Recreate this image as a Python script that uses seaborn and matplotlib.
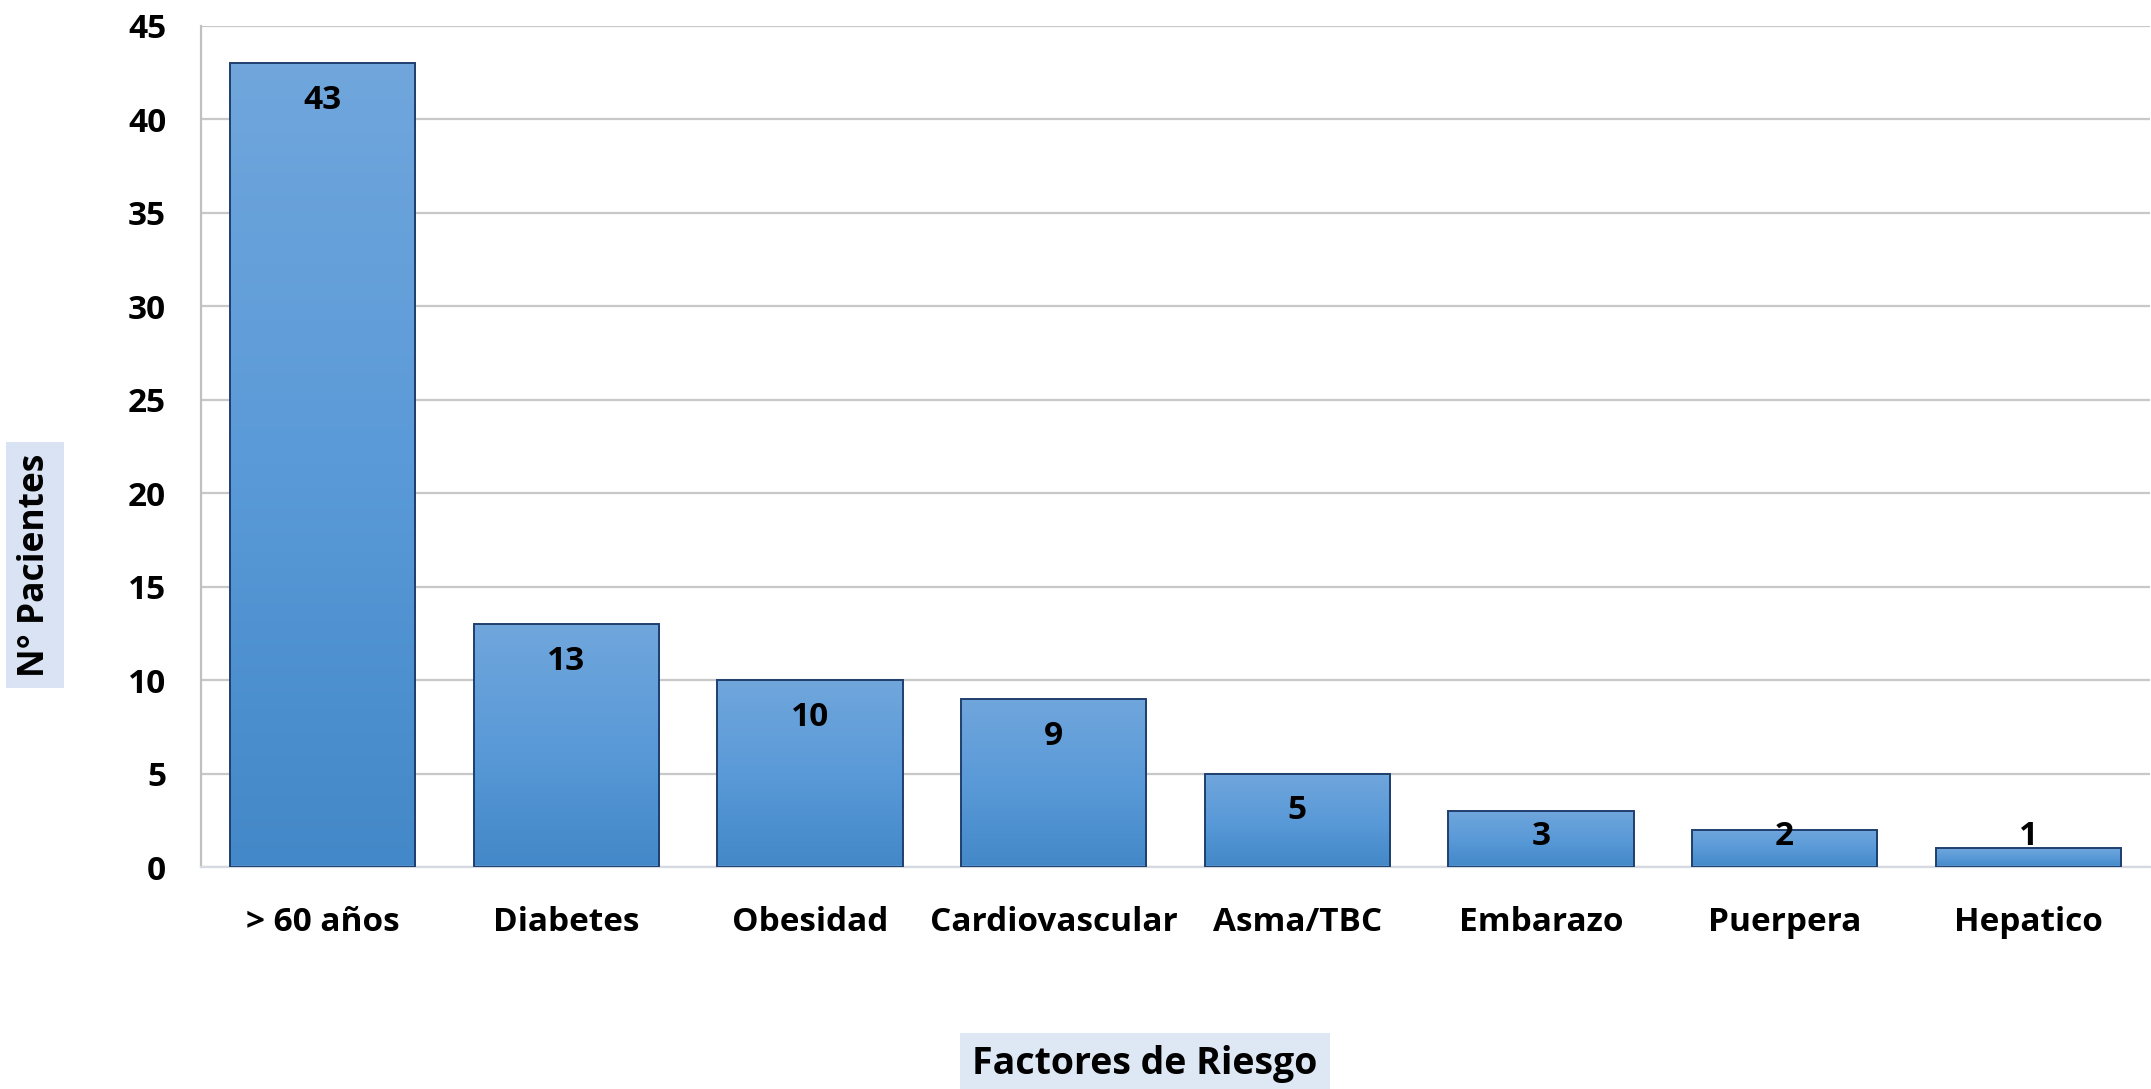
import numpy as np
import pandas as pd
import matplotlib
matplotlib.use('Agg')
import matplotlib.pyplot as plt
import seaborn as sns
from matplotlib.colors import LinearSegmentedColormap

# data
factores = ['> 60 años', 'Diabetes', 'Obesidad', 'Cardiovascular', 'Asma/TBC',
            'Embarazo', 'Puerpera', 'Hepatico']
pacientes = [43, 13, 10, 9, 5, 3, 2, 1]

df = pd.DataFrame({'factor': factores, 'n': pacientes})

sns.set_style('white')
plt.rcParams['font.family'] = ['Open Sans', 'DejaVu Sans']
plt.rcParams['font.weight'] = 'bold'
plt.rcParams['text.color'] = 'black'
plt.rcParams['xtick.color'] = 'black'
plt.rcParams['ytick.color'] = 'black'

fs = 24

fig = plt.figure(figsize=(21.51, 10.89), dpi=100)
ax = fig.add_axes([201 / 2151, 1 - 867 / 1089, 1949 / 2151, 841 / 1089])

sns.barplot(data=df, x='factor', y='n', ax=ax, width=0.76, color='#5b9bd5',
            edgecolor='#1f3f6e', linewidth=1.4, zorder=3)

# gradient fill for each bar (lighter on top, darker at bottom)
cmap = LinearSegmentedColormap.from_list('bar', ['#4388c8', '#5a9ad8', '#70a6dc'])
grad = np.linspace(0, 1, 256).reshape(-1, 1)
for p in ax.patches:
    x0, y0 = p.get_x(), p.get_y()
    w, h = p.get_width(), p.get_height()
    im = ax.imshow(grad, cmap=cmap, origin='lower', aspect='auto',
                   extent=[x0, x0 + w, y0, y0 + h], zorder=2.5)
    im.set_clip_path(p)
    p.set_facecolor('none')

ax.set_xlim(-0.5, len(factores) - 0.5)
ax.set_ylim(0, 45)
ax.set_yticks(range(0, 46, 5))
ax.yaxis.grid(True, color='#c8c8c8', linewidth=1.6, zorder=0)
ax.set_axisbelow(True)

for s in ['top', 'right']:
    ax.spines[s].set_visible(False)
ax.spines['left'].set_color('#c0c0c0')
ax.spines['left'].set_linewidth(1.6)
ax.spines['bottom'].set_color('#d5dae2')
ax.spines['bottom'].set_linewidth(1.6)

ax.tick_params(axis='both', length=0, labelsize=fs, labelcolor='black')
ax.tick_params(axis='y', pad=25)
ax.tick_params(axis='x', pad=28)
for lab in ax.get_xticklabels() + ax.get_yticklabels():
    lab.set_fontweight('bold')

# value labels near the top of each bar
for i, v in enumerate(pacientes):
    ax.text(i, max(v - 2, 1.62), str(v), ha='center', va='center',
            fontsize=fs, fontweight='bold', color='black', zorder=5)

ax.set_xlabel('')
ax.set_ylabel('')

fig.text(35 / 2151, 1 - 565 / 1089, 'N° Pacientes', rotation=90, ha='center', va='center',
         fontsize=25.5, fontweight='bold', color='black',
         bbox=dict(facecolor='#dae3f3', edgecolor='none', pad=8))
fig.text(1145 / 2151, 1 - 1064 / 1089, 'Factores de Riesgo', ha='center', va='center',
         fontsize=27, fontweight='bold', color='black',
         bbox=dict(facecolor='#dee8f4', edgecolor='none', pad=9))

fig.savefig('out.png', dpi=100)
